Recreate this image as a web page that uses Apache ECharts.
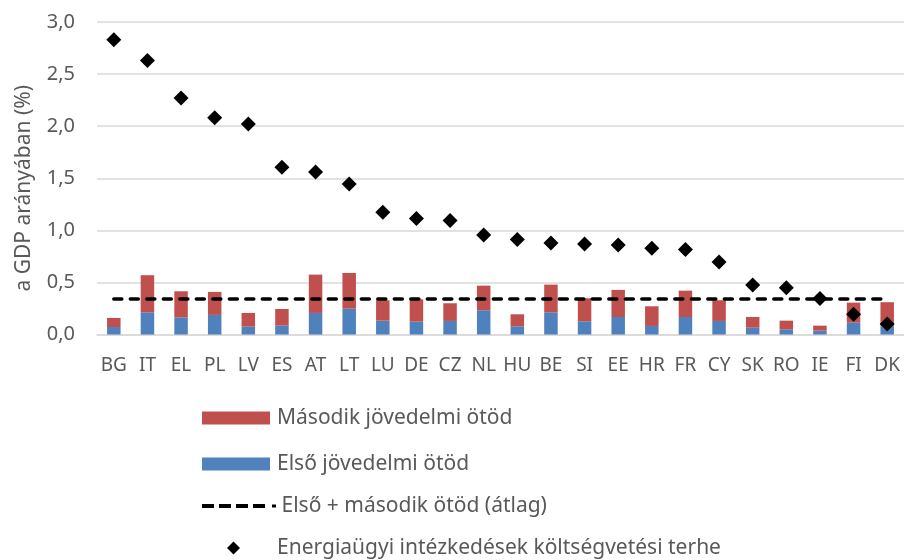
<!DOCTYPE html>
<html>
<head>
<meta charset="utf-8">
<script src="https://cdn.jsdelivr.net/npm/echarts@6/dist/echarts.min.js"></script>
<style>html,body{margin:0;padding:0;background:#fff}#c{width:904px;height:560px}</style>
</head>
<body>
<div id="c"></div>
<script>
const categories = ['BG','IT','EL','PL','LV','ES','AT','LT','LU','DE','CZ','NL','HU','BE','SI','EE','HR','FR','CY','SK','RO','IE','FI','DK'];
// Első jövedelmi ötöd (blue, bottom)
const firstQuintile = [0.072,0.213,0.165,0.188,0.075,0.085,0.207,0.248,0.133,0.123,0.130,0.233,0.079,0.213,0.127,0.168,0.082,0.168,0.130,0.065,0.050,0.037,0.113,0.080];
// Második jövedelmi ötöd (red, stacked on top)
const secondQuintile = [0.087,0.356,0.250,0.221,0.132,0.160,0.368,0.343,0.196,0.215,0.170,0.236,0.115,0.266,0.221,0.260,0.189,0.253,0.199,0.103,0.083,0.048,0.193,0.230];
// Első + második ötöd (átlag)
const average = [0.34,0.34,0.34,0.34,0.34,0.34,0.34,0.34,0.34,0.34,0.34,0.34,0.34,0.34,0.34,0.34,0.34,0.34,0.34,0.34,0.34,0.34,0.34,0.34];
// Energiaügyi intézkedések költségvetési terhe
const energyBurden = [2.83,2.63,2.27,2.08,2.02,1.605,1.56,1.446,1.174,1.114,1.095,0.956,0.911,0.879,0.87,0.86,0.827,0.815,0.697,0.476,0.45,0.345,0.194,0.10];

const FONT = 'Noto Sans';
const TXT = '#595959';
const names = ['Második jövedelmi ötöd','Első jövedelmi ötöd','Első + második ötöd (átlag)','Energiaügyi intézkedések költségvetési terhe'];

const DASH_ICON = 'path://M0,0h12v4h-12z M17,0h12v4h-12z M34,0h12v4h-12z M51,0h12v4h-12z M70,0.5h4v3h-4z';
const DIAMOND_ICON = 'path://M6.5,0L13,6.5L6.5,13L0,6.5Z';

function legendAt(name, left, top, w, h, icon, padLeft) {
  return {
    orient: 'vertical', left: left, top: top, padding: 0,
    itemWidth: w, itemHeight: h, itemGap: 0,
    selectedMode: false,
    textStyle: {color: TXT, fontFamily: FONT, fontSize: 21, lineHeight: 22, padding: [0,0,0,padLeft]},
    data: [{name: name, icon: icon}]
  };
}

const chart = echarts.init(document.getElementById('c'), null, {renderer: 'canvas'});
chart.setOption({
  animation: false,
  backgroundColor: '#fff',
  grid: {left: 97, top: 22, width: 809, height: 312.5, containLabel: false},
  legend: [
    legendAt(names[0], 202, 407, 68, 13, 'rect', 2),
    legendAt(names[1], 202, 453, 68, 13, 'rect', 2),
    legendAt(names[2], 202, 495, 75, 4, DASH_ICON, 0),
    legendAt(names[3], 227, 537, 13, 13, DIAMOND_ICON, 32)
  ],
  xAxis: {
    type: 'category', data: categories,
    axisLine: {show: true, lineStyle: {color: '#d9d9d9', width: 1.5}},
    axisTick: {show: false},
    axisLabel: {color: TXT, fontFamily: FONT, fontSize: 19, margin: 22, interval: 0}
  },
  yAxis: {
    type: 'value', min: 0, max: 3, interval: 0.5,
    name: 'a GDP arányában (%)', nameLocation: 'middle', nameGap: 62, nameRotate: 90,
    nameTextStyle: {color: TXT, fontFamily: FONT, fontSize: 21, padding: [0, 20, 0, 0]},
    axisLine: {show: false}, axisTick: {show: false},
    splitLine: {lineStyle: {color: '#d9d9d9', width: 1.5}},
    axisLabel: {color: TXT, fontFamily: FONT, fontSize: 20, margin: 22,
      formatter: v => v.toFixed(1).replace('.', ',')}
  },
  series: [
    {name: names[1], type: 'bar', stack: 'q', data: firstQuintile, barWidth: 13.5,
     itemStyle: {color: '#4F81BD'}, z: 2},
    {name: names[0], type: 'bar', stack: 'q', data: secondQuintile, barWidth: 13.5,
     itemStyle: {color: '#C0504D'}, z: 2},
    {name: names[2], type: 'line', data: average, symbol: 'none', z: 3,
     lineStyle: {color: '#000', width: 3.5, type: [8, 8.5], cap: 'round'},
     itemStyle: {color: '#000'}},
    {name: names[3], type: 'scatter', data: energyBurden, symbol: 'diamond', symbolSize: 15, z: 4,
     itemStyle: {color: '#000', opacity: 1}}
  ]
});
</script>
</body>
</html>
